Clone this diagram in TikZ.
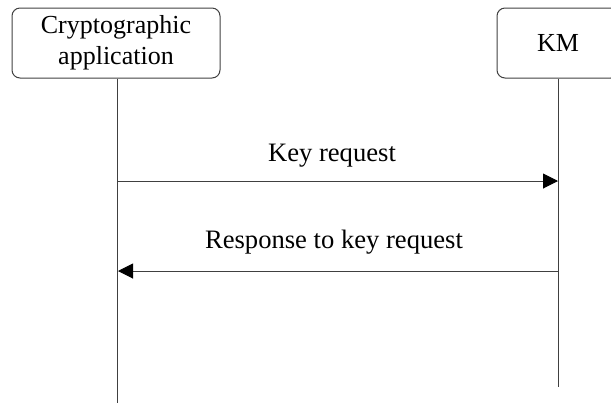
\documentclass[tikz,border=0pt]{standalone}
\usepackage{fontspec}
\setmainfont{Liberation Serif}
\usetikzlibrary{arrows.meta}

\tikzset{
  party/.style={draw=black!75, rounded corners=4pt, line width=0.5pt,
    align=center, minimum height=35pt, inner sep=0pt},
  life/.style={draw=black!75, line width=0.5pt},
  msg/.style={draw=black!75, line width=0.5pt,
    -{Triangle[length=7.5pt,width=7.5pt,fill=black,color=black]}},
  msglabel/.style={inner sep=0pt, font=\fontsize{13.3}{15.5}\selectfont}
}

\begin{document}
\begin{tikzpicture}[x=0.5pt,y=-0.5pt]
\useasboundingbox (0,0) rectangle (611,403);
\node[party, minimum width=104pt, font=\fontsize{13}{15.5}\selectfont] (app) at (116,43) {Cryptographic\\application};
\node[party, minimum width=61pt, font=\fontsize{13}{15.5}\selectfont] (km) at (558,43) {KM};
\coordinate (append) at (117,403);
\coordinate (kmend) at (558,387);
\draw[life] (app.south -| append) -- (append);
\draw[life] (km.south) -- (kmend);
\coordinate (a1) at (118,181);
\coordinate (k1) at (558,181);
\coordinate (a2) at (118,271);
\coordinate (k2) at (558,271);
\draw[msg] (a1) -- (k1) node[msglabel, midway, above=6.5pt, xshift=-3pt] (req) {Key request};
\draw[msg] (k2) -- (a2) node[msglabel, midway, above=8pt, xshift=-2pt] (resp) {Response to key request};
\end{tikzpicture}
\end{document}
